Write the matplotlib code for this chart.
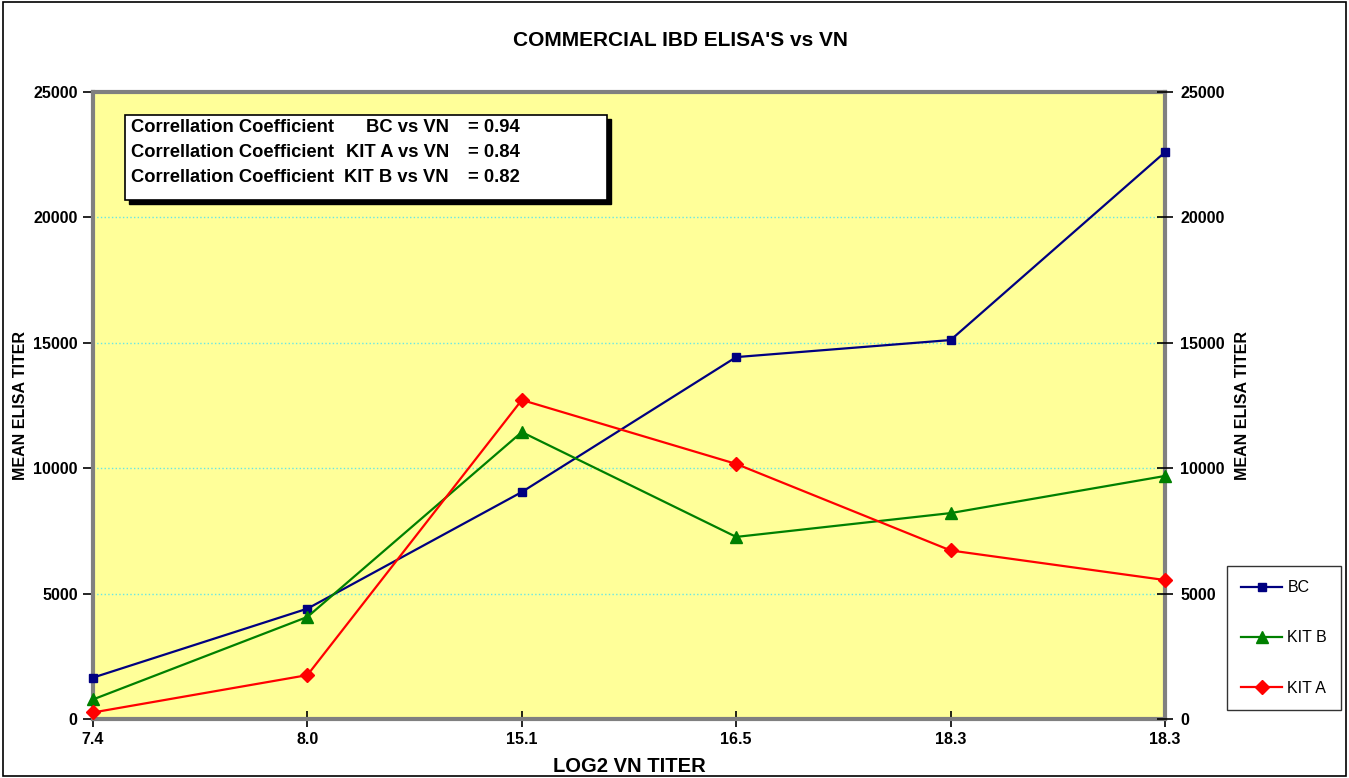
import matplotlib
matplotlib.use('Agg')
import matplotlib.pyplot as plt
from matplotlib.patches import Rectangle

plt.rcParams['font.family'] = ['Liberation Sans', 'DejaVu Sans']

titers = ['7.4', '8.0', '15.1', '16.5', '18.3', '18.3']
bc = [1650, 4400, 9050, 14430, 15110, 22600]
kit_b = [780, 4070, 11440, 7260, 8210, 9690]
kit_a = [260, 1750, 12720, 10170, 6720, 5540]
coef_pairs = ['BC vs VN', 'KIT A vs VN', 'KIT B vs VN']
coef_vals = [0.94, 0.84, 0.82]

W, H = 1349, 778
fig = plt.figure(figsize=(W / 100, H / 100), dpi=100)
fig.patch.set_facecolor('white')
# outer chart border
fig.patches.append(Rectangle((0.002, 0.002), 0.996, 0.996, transform=fig.transFigure,
                             fill=False, edgecolor='black', linewidth=1.2))

ax = fig.add_axes([93 / W, 1 - 719 / H, 1072 / W, 627 / H])
ax.set_facecolor('#FFFF99')
x = list(range(len(titers)))

ax.plot(x, bc, color='#000080', marker='s', markersize=5.5, linewidth=1.6,
        label='BC', clip_on=False, zorder=3)
ax.plot(x, kit_b, color='#008000', marker='^', markersize=8.5, linewidth=1.6,
        label='KIT B', clip_on=False, zorder=3)
ax.plot(x, kit_a, color='#FF0000', marker='D', markersize=7, linewidth=1.6,
        label='KIT A', clip_on=False, zorder=3)

yt = list(range(0, 25001, 5000))
ax.set_xlim(0, len(titers) - 1)
ax.set_ylim(0, 25000)
ax.set_xticks(x)
ax.set_xticklabels(titers, fontsize=11.5, fontweight='bold')
ax.set_yticks(yt)
ax.set_yticklabels([str(v) for v in yt], fontsize=11.5, fontweight='bold')
ax.yaxis.grid(True, color='#66E6E6', linestyle=':', linewidth=1.0)
ax.set_axisbelow(True)
ax.tick_params(axis='y', direction='out', length=7, width=1.2, pad=4)
ax.tick_params(axis='x', direction='inout', length=12, width=1.2, pad=3)
for side in ['left', 'right', 'top', 'bottom']:
    ax.spines[side].set_color('#808080')
    ax.spines[side].set_linewidth(3)

ax2 = ax.twinx()
ax2.set_ylim(0, 25000)
ax2.set_yticks(yt)
ax2.set_yticklabels([str(v) for v in yt], fontsize=11.5, fontweight='bold')
ax2.tick_params(axis='y', direction='inout', length=12, width=1.2, pad=5)
for side in ['left', 'right', 'top', 'bottom']:
    ax2.spines[side].set_visible(False)

ax.set_ylabel('MEAN ELISA TITER', fontsize=11.5, fontweight='bold', va='center')
ax.yaxis.set_label_coords(-0.068, 0.5)
ax2.set_ylabel('MEAN ELISA TITER', fontsize=11.5, fontweight='bold', va='center')
ax2.yaxis.set_label_coords(1.072, 0.5)
ax.set_xlabel('LOG2 VN TITER', fontsize=14.5, fontweight='bold', va='center')
ax.xaxis.set_label_coords(0.5, -0.075)

fig.text(0.5045, 1 - 40 / H, "COMMERCIAL IBD ELISA'S vs VN", ha='center', va='center',
         fontsize=15, fontweight='bold')

# correlation box with drop shadow
bx0, by0, bw, bh = 125 / W, 1 - 200 / H, 482 / W, 85 / H
fig.patches.append(Rectangle((bx0 + 4 / W, by0 - 4 / H), bw, bh, transform=fig.transFigure,
                             facecolor='black', edgecolor='black', zorder=5))
fig.patches.append(Rectangle((bx0, by0), bw, bh, transform=fig.transFigure,
                             facecolor='white', edgecolor='black', linewidth=1.2, zorder=6))
for i, (pair, val) in enumerate(zip(coef_pairs, coef_vals)):
    yy = 1 - (128 + i * 24.5) / H
    fig.text(131 / W, yy, 'Correllation Coefficient', ha='left', va='center',
             fontsize=13.2, fontweight='bold', zorder=7)
    fig.text(449 / W, yy, pair, ha='right', va='center',
             fontsize=13.2, fontweight='bold', zorder=7)
    fig.text(468 / W, yy, '= %.2f' % val, ha='left', va='center',
             fontsize=13.2, fontweight='bold', zorder=7)

handles, labels = ax.get_legend_handles_labels()
leg = fig.legend(handles, labels, loc='center', bbox_to_anchor=(1284 / W, 1 - 638 / H),
                 frameon=True, fancybox=False, fontsize=11.5, labelspacing=2.2,
                 handlelength=2.6, handletextpad=0.3, borderpad=0.9, borderaxespad=0)
leg.get_frame().set_edgecolor('black')
leg.get_frame().set_linewidth(1.0)

fig.savefig('out.png', dpi=100)
